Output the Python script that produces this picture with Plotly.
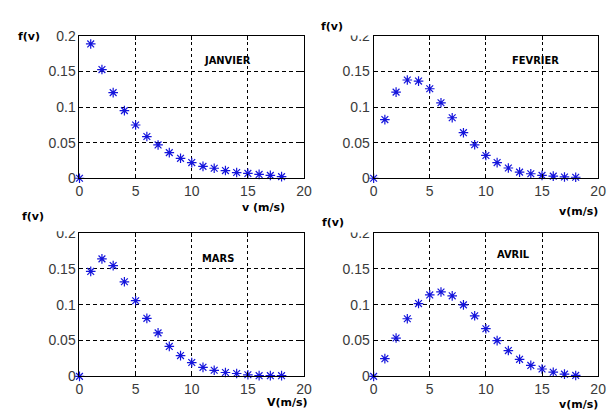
import plotly.graph_objects as go

v = list(range(0, 19))
janvier = [0, 0.1887, 0.1527, 0.1203, 0.0950, 0.0748, 0.0586, 0.0468, 0.0360, 0.0280,
           0.0220, 0.0167, 0.0140, 0.0108, 0.0080, 0.0068, 0.0054, 0.0040, 0.0023]
fevrier = [0, 0.0824, 0.1210, 0.1380, 0.1365, 0.1257, 0.1060, 0.0850, 0.0640, 0.0470,
           0.0320, 0.0220, 0.0144, 0.0086, 0.0063, 0.0040, 0.0030, 0.0018, 0.0014]
mars = [0, 0.1465, 0.1640, 0.1546, 0.1320, 0.1056, 0.0810, 0.0607, 0.0418, 0.0290,
        0.0193, 0.0126, 0.0085, 0.0054, 0.0040, 0.0022, 0.0010, 0.0010, 0.0010]
avril = [0, 0.0247, 0.0535, 0.0804, 0.1016, 0.1137, 0.1178, 0.1124, 0.0998, 0.0845,
         0.0665, 0.0499, 0.0360, 0.0238, 0.0153, 0.0103, 0.0058, 0.0031, 0.0013]
months = ["JANVIER", "FEVRIER", "MARS", "AVRIL"]
series = [janvier, fevrier, mars, avril]
x_ticks = [0, 5, 10, 15, 20]
y_ticks = [0, 0.05, 0.1, 0.15, 0.2]
y_ticktext = ["0", "0.05", "0.1", "0.15", "0.2"]
x_labels = ["v (m/s)", "v(m/s)", "V(m/s)", "v(m/s)"]
month_pos = [(13.2, 0.166), (14.4, 0.166), (12.3, 0.165), (12.5, 0.170)]

W, H = 614, 419
panels = [  # left, right, top, bottom in pixels
    (77, 306, 29, 177),
    (377, 606, 29, 177),
    (77, 306, 234, 383),
    (377, 606, 234, 383),
]

fig = go.Figure()
layout = dict(width=W, height=H, margin=dict(l=0, r=0, t=0, b=0),
              paper_bgcolor="white", plot_bgcolor="white", showlegend=False)

tickfont = dict(family="Liberation Sans, Arial, sans-serif", size=14, color="#3a3a3a")
for i, (ys, (l, r, t, b)) in enumerate(zip(series, panels)):
    n = "" if i == 0 else str(i + 1)
    fig.add_trace(go.Scatter(
        x=v, y=ys, mode="markers", xaxis="x" + n, yaxis="y" + n, cliponaxis=False,
        marker=dict(symbol="asterisk-open", size=8, color="#1414dc",
                    line=dict(color="#1414dc", width=1.2))))
    layout["xaxis" + n] = dict(
        domain=[l / W, r / W], range=[0, 20], anchor="y" + n,
        tickvals=x_ticks, ticks="inside", ticklen=4, tickcolor="black",
        showline=True, linecolor="black", linewidth=1, mirror="ticks",
        showgrid=True, gridcolor="black", gridwidth=1, griddash="3px,3px",
        zeroline=False, tickfont=tickfont)
    layout["yaxis" + n] = dict(
        domain=[1 - b / H, 1 - t / H], range=[0, 0.2], anchor="x" + n,
        tickvals=y_ticks, ticktext=y_ticktext, ticks="inside", ticklen=4, tickcolor="black",
        showline=True, linecolor="black", linewidth=1, mirror="ticks",
        showgrid=True, gridcolor="black", gridwidth=1, griddash="4px,3px",
        zeroline=False, tickfont=tickfont)

fig.update_layout(**layout)

# partially hidden top tick labels, as in the reference screenshot
masks = [(338, 374, 16, 28.5), (36, 75, 222, 232), (36, 53, 222, 240), (338, 374, 222, 233.5)]
for (x0, x1, y0, y1) in masks:
    fig.add_shape(type="rect", xref="paper", yref="paper", layer="above",
                  x0=x0 / W, x1=x1 / W, y0=1 - y1 / H, y1=1 - y0 / H,
                  fillcolor="white", line=dict(width=0))

lblfont = dict(family="DejaVu Sans, sans-serif", size=11, color="black")
fv_pos = [(12, 30), (321, 19), (16, 217), (322, 223)]
for (px, py) in fv_pos:
    fig.add_annotation(x=px / W, y=1 - py / H, xref="paper", yref="paper",
                       text="<b>f(v)</b>", showarrow=False, xanchor="left", yanchor="middle",
                       font=lblfont)
xl_pos = [(265, 207), (586, 212), (289, 410), (586, 412)]
for (px, py), txt in zip(xl_pos, x_labels):
    fig.add_annotation(x=px / W, y=1 - py / H, xref="paper", yref="paper",
                       text="<b>" + txt + "</b>", showarrow=False, xanchor="center",
                       yanchor="middle", font=lblfont)
for i, (m, (mx, my)) in enumerate(zip(months, month_pos)):
    n = "" if i == 0 else str(i + 1)
    fig.add_annotation(x=mx, y=my, xref="x" + n, yref="y" + n, text="<b>" + m + "</b>",
                       showarrow=False,
                       font=dict(family="Liberation Sans Narrow, DejaVu Sans Condensed, sans-serif",
                                 size=11, color="black"))

fig.write_html("out.html", config={"displayModeBar": False},
               post_script="document.body.style.margin='0';document.body.style.overflow='hidden';")
